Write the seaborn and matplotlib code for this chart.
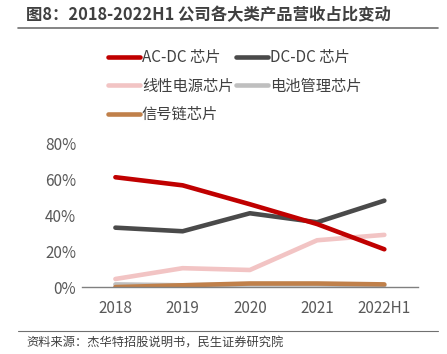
import pandas as pd
import matplotlib.pyplot as plt
import seaborn as sns
from matplotlib.lines import Line2D

years = ['2018', '2019', '2020', '2021', '2022H1']
ac_dc = [61, 56.5, 46, 35, 21]
dc_dc = [33, 31, 41, 36, 48]
linear = [4.5, 10.5, 9.5, 26, 29]
battery = [1.5, 1, 1.5, 1.5, 1]
signal = [0, 1, 2, 2, 1.5]

series = ['AC-DC 芯片', 'DC-DC 芯片', '线性电源芯片', '电池管理芯片', '信号链芯片']
colors = ['#C00000', '#4A4A4A', '#F2C4C4', '#BFBFBF', '#C0804A']

rows = []
for name, vals in zip(series, [ac_dc, dc_dc, linear, battery, signal]):
    for i, v in enumerate(vals):
        rows.append({'pos': i, 'year': years[i], 'value': v, 'series': name})
df = pd.DataFrame(rows)

sns.set_style('white')
plt.rcParams['font.family'] = ['Noto Sans CJK SC', 'DejaVu Sans']

fig = plt.figure(figsize=(4.47, 3.54), dpi=100)
ax = fig.add_axes([0.183, 0.189, 0.752, 0.407])

# draw order: bottom ones first so main lines sit on top
draw_order = ['电池管理芯片', '信号链芯片', '线性电源芯片', 'DC-DC 芯片', 'AC-DC 芯片']
for name in draw_order:
    c = colors[series.index(name)]
    sns.lineplot(data=df[df['series'] == name], x='pos', y='value', color=c,
                 linewidth=3.3, ax=ax, legend=False)

ax.set_xlim(-0.5, 4.5)
ax.set_ylim(0, 80)
ax.set_yticks([0, 20, 40, 60, 80])
ax.set_yticklabels([f'{v}%' for v in [0, 20, 40, 60, 80]])
ax.set_xticks(range(5))
ax.set_xticklabels(years)
ax.set_xticks([-0.5, 0.5, 1.5, 2.5, 3.5, 4.5], minor=True)
ax.tick_params(axis='x', which='major', length=0, pad=9, labelsize=11, colors='#595959')
ax.tick_params(axis='x', which='minor', length=4, width=1, color='#808080', direction='out')
ax.tick_params(axis='y', length=0, pad=4, labelsize=11, colors='#595959')
ax.set_xlabel('')
ax.set_ylabel('')
for s in ['top', 'right', 'left']:
    ax.spines[s].set_visible(False)
ax.spines['bottom'].set_color('#808080')
ax.spines['bottom'].set_linewidth(1)

# legend filled column-wise, so reorder to read row by row
order = [0, 2, 4, 1, 3]
handles = [Line2D([0], [0], color=colors[i], linewidth=3.3) for i in order]
labels = [series[i] for i in order]
fig.legend(handles, labels, ncol=2, loc='upper left', bbox_to_anchor=(0.21, 0.9),
           frameon=False, fontsize=11, handlelength=2.1, handletextpad=0.15,
           columnspacing=0.15, labelspacing=0.75, labelcolor='#404040')

# title and rules
fig.text(0.058, 0.958, '图8：2018-2022H1 公司各大类产品营收占比变动', fontsize=11.8,
         fontweight='bold', color='#404040', va='center')
fig.add_artist(Line2D([0.04, 0.98], [0.922, 0.922], color='#707070', linewidth=1.2))
fig.add_artist(Line2D([0.04, 0.98], [0.066, 0.066], color='#707070', linewidth=0.8))
fig.text(0.058, 0.03, '资料来源：杰华特招股说明书，民生证券研究院', fontsize=8.8,
         color='#404040', va='center')

fig.savefig('out.png', dpi=100)
